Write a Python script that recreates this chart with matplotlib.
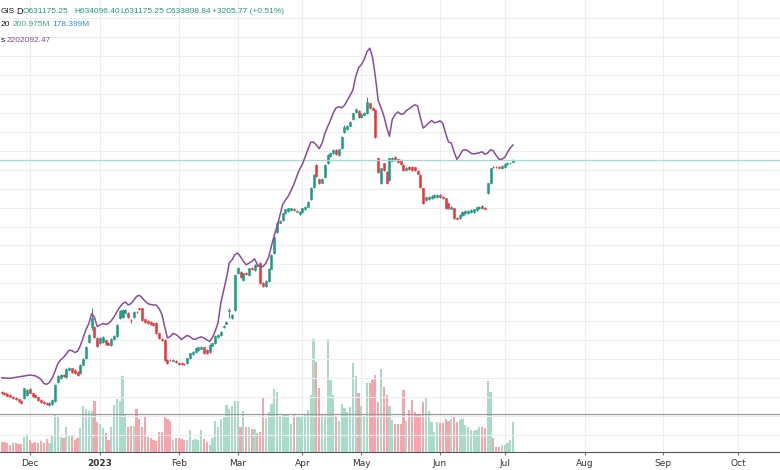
import numpy as np
import matplotlib
matplotlib.use("Agg")
import matplotlib.pyplot as plt

# daily candles, prices in thousands
opens = [401.8, 400.8, 399.5, 398.5, 396.8, 395.8, 394.2, 392.8, 395.2, 398.5,
         404.2, 400.2, 398.5, 396.2, 393.5, 391.8, 390.8, 388.5, 389.8, 392.8,
         411.8, 415.2, 418.8, 416.8, 424.0, 425.2, 423.5, 421.8, 420.2, 429.0,
         435.2, 451.8, 466.8, 466.8, 455.5, 450.8, 451.8, 453.5, 451.0, 448.5,
         454.5, 457.5, 475.5, 476.5, 481.0, 480.8, 473.5, 476.8, 482.0, 485.2,
         485.2, 474.2, 472.8, 471.8, 470.2, 470.5, 460.2, 455.0, 453.5, 433.5,
         433.5, 433.0, 432.8, 430.8, 430.5, 430.0, 430.2, 435.2, 439.5, 441.8,
         443.5, 445.0, 446.2, 443.5, 441.8, 448.0, 450.8, 456.8, 458.5, 466.5,
         470.0, 483.0, 475.2, 483.5, 520.2, 521.8, 513.5, 520.8, 518.5, 525.8,
         523.5, 529.0, 530.5, 510.5, 507.5, 512.5, 525.0, 540.5, 561.8, 571.0,
         573.5, 580.2, 582.8, 583.5, 584.5, 582.0, 579.2, 581.8, 584.2, 587.0,
         594.2, 606.8, 628.5, 614.2, 611.0, 616.8, 630.2, 637.5, 640.8, 643.5,
         638.5, 645.5, 661.8, 664.2, 668.0, 674.2, 681.8, 682.8, 676.8, 679.0,
         680.2, 690.2, 686.0, 683.5, 635.2, 610.2, 630.2, 621.8, 613.5, 633.0,
         636.8, 634.2, 633.5, 628.5, 623.8, 626.8, 626.8, 626.2, 622.5, 618.5,
         605.2, 593.5, 594.8, 595.5, 596.8, 596.8, 598.5, 596.5, 595.2, 590.2,
         585.0, 585.2, 576.0, 575.2, 578.5, 580.2, 580.8, 581.5, 581.8, 583.5,
         585.5, 587.5, 586.0, 600.8, 610.2, 626.8, 626.5, 626.5, 625.8, 626.8,
         629.5, 630.3, 631.175]
closes = [400.5, 399.2, 397.8, 396.8, 395.2, 394.2, 392.5, 390.8, 405.2, 403.5,
          400.8, 397.5, 396.2, 393.5, 391.2, 390.2, 389.2, 391.0, 393.5, 408.5,
          417.5, 418.5, 417.6, 424.5, 425.5, 421.8, 420.2, 418.5, 428.5, 435.0,
          446.8, 458.5, 475.5, 456.8, 447.5, 455.5, 456.8, 449.5, 449.0, 454.5,
          458.0, 468.5, 482.5, 483.5, 484.0, 476.2, 473.2, 481.8, 481.5, 484.8,
          473.5, 471.8, 470.8, 469.5, 468.8, 460.2, 455.2, 453.8, 433.5, 430.2,
          433.3, 433.5, 431.2, 429.5, 429.8, 429.2, 435.2, 440.2, 441.8, 445.2,
          446.2, 446.5, 440.2, 440.8, 448.5, 450.5, 457.5, 458.5, 462.0, 467.5,
          472.0, 483.5, 478.5, 518.5, 525.2, 516.8, 520.2, 519.8, 525.2, 524.8,
          528.5, 528.0, 510.2, 507.5, 512.5, 525.0, 538.5, 556.8, 570.8, 573.0,
          580.2, 584.2, 585.2, 585.2, 583.8, 583.0, 581.8, 585.2, 586.8, 592.0,
          605.2, 618.5, 617.5, 610.2, 614.5, 628.5, 638.5, 640.2, 643.5, 639.5,
          644.2, 657.0, 666.8, 667.5, 672.0, 680.2, 684.2, 676.2, 679.5, 681.0,
          691.8, 685.2, 684.0, 656.8, 621.8, 625.2, 623.5, 610.2, 635.2, 636.0,
          633.5, 631.8, 629.5, 623.5, 626.0, 624.2, 623.5, 623.5, 620.0, 606.8,
          590.2, 596.2, 596.8, 597.5, 598.5, 598.5, 596.8, 595.5, 585.2, 585.2,
          586.5, 575.2, 575.0, 578.5, 581.8, 582.8, 582.8, 583.5, 584.2, 586.2,
          587.0, 585.2, 585.0, 610.2, 625.2, 626.7, 626.2, 626.0, 627.5, 629.5,
          630.3, 630.6, 633.809]
highs = [402.5, 401.5, 400.2, 399.2, 397.5, 396.5, 395.0, 393.5, 406.0, 404.5,
         405.5, 401.0, 399.2, 397.0, 394.2, 392.5, 391.5, 391.8, 394.2, 409.5,
         418.5, 419.5, 419.6, 425.5, 426.5, 426.0, 424.3, 422.6, 429.5, 436.0,
         448.0, 459.5, 485.5, 468.0, 456.5, 456.5, 457.8, 454.5, 451.8, 455.5,
         459.0, 469.5, 483.5, 484.5, 485.0, 482.0, 474.3, 482.8, 482.8, 486.0,
         486.0, 475.0, 473.6, 472.6, 471.0, 471.3, 461.0, 455.8, 454.3, 434.3,
         434.3, 434.3, 433.6, 431.6, 431.3, 430.8, 436.0, 441.0, 442.6, 446.0,
         447.0, 447.3, 447.0, 444.3, 449.3, 451.3, 458.3, 459.3, 462.8, 468.3,
         472.8, 485.5, 479.3, 519.5, 526.2, 522.6, 521.0, 521.6, 526.0, 526.6,
         529.3, 529.8, 531.5, 511.3, 513.3, 525.8, 539.3, 557.8, 571.8, 573.8,
         581.0, 585.0, 586.0, 586.0, 585.3, 583.8, 582.6, 586.0, 587.6, 592.8,
         606.2, 619.5, 629.3, 615.0, 615.3, 629.5, 639.3, 641.0, 644.3, 644.3,
         645.0, 658.0, 668.5, 668.3, 672.8, 681.0, 685.0, 683.6, 680.3, 681.8,
         696.2, 691.0, 686.8, 684.3, 636.0, 626.0, 631.0, 622.6, 636.0, 636.8,
         637.6, 635.0, 634.3, 629.3, 626.8, 627.6, 627.6, 627.0, 623.3, 619.3,
         606.0, 597.0, 597.6, 598.3, 599.3, 599.3, 599.3, 597.3, 596.0, 591.0,
         587.3, 586.0, 576.8, 579.3, 582.6, 583.6, 583.6, 584.3, 585.0, 587.0,
         587.8, 588.3, 586.8, 611.0, 626.0, 627.6, 627.3, 627.3, 628.3, 630.3,
         631.1, 631.4, 634.096]
lows = [399.8, 398.6, 397.2, 396.1, 394.6, 393.6, 391.8, 390.0, 394.5, 397.8,
        400.1, 396.8, 395.5, 392.8, 390.5, 389.5, 388.5, 387.8, 389.0, 392.0,
        411.0, 414.5, 416.8, 416.0, 423.2, 421.0, 419.5, 417.8, 419.5, 428.2,
        434.5, 451.0, 464.0, 455.8, 446.5, 450.0, 451.0, 448.7, 448.2, 447.7,
        453.8, 456.8, 474.5, 475.8, 480.2, 475.2, 470.5, 476.0, 480.7, 484.0,
        472.7, 471.0, 470.0, 468.7, 468.0, 459.4, 454.4, 453.0, 432.5, 429.4,
        432.5, 432.2, 430.4, 428.7, 429.0, 428.4, 429.4, 434.4, 438.7, 441.0,
        442.7, 444.2, 439.4, 440.0, 441.0, 447.2, 450.0, 456.0, 457.7, 465.7,
        469.2, 475.5, 474.4, 482.7, 519.4, 516.0, 512.7, 519.0, 517.7, 524.0,
        522.7, 527.2, 509.4, 506.7, 506.7, 511.7, 524.2, 539.7, 561.0, 570.2,
        572.7, 579.4, 582.0, 582.7, 583.0, 581.2, 578.4, 581.0, 583.4, 586.2,
        593.4, 606.0, 616.7, 609.4, 610.2, 616.0, 629.4, 636.7, 640.0, 638.7,
        637.7, 644.7, 661.0, 663.4, 667.2, 673.4, 681.0, 675.4, 676.0, 678.2,
        679.4, 684.4, 683.2, 656.0, 621.0, 609.4, 622.7, 609.4, 612.7, 632.2,
        632.7, 631.0, 628.7, 622.7, 623.0, 623.4, 622.7, 622.7, 619.2, 606.0,
        589.4, 592.7, 594.0, 594.7, 596.0, 596.0, 596.0, 594.7, 584.4, 584.4,
        584.2, 574.4, 574.2, 574.4, 577.7, 579.4, 580.0, 580.7, 581.0, 582.7,
        584.7, 584.4, 584.2, 600.0, 609.4, 625.9, 625.4, 625.2, 625.0, 626.0,
        628.7, 629.8, 631.175]

# volume in millions
volume = [67, 62, 56, 45, 56, 56, 52, 52, 96, 119,
          78, 60, 67, 60, 72, 60, 82, 60, 105, 253,
          235, 101, 89, 168, 112, 105, 78, 89, 156, 306,
          288, 273, 273, 340, 201, 186, 156, 123, 78, 168,
          313, 350, 342, 507, 246, 163, 172, 172, 283, 216,
          168, 230, 96, 89, 78, 74, 134, 134, 239, 216,
          208, 78, 89, 89, 82, 78, 78, 145, 78, 82,
          78, 145, 82, 67, 45, 89, 208, 168, 216, 235,
          313, 283, 306, 340, 340, 163, 275, 163, 163, 149,
          149, 127, 134, 360, 226, 268, 320, 417, 400, 239,
          246, 246, 248, 186, 246, 235, 232, 241, 253, 279,
          380, 752, 603, 424, 246, 246, 752, 480, 380, 239,
          208, 320, 295, 268, 302, 596, 507, 391, 308, 239,
          462, 462, 480, 514, 335, 551, 431, 380, 306, 212,
          186, 188, 186, 413, 208, 279, 346, 268, 253, 248,
          335, 357, 275, 201, 134, 201, 190, 194, 216, 208,
          216, 230, 201, 210, 216, 179, 168, 145, 141, 145,
          168, 168, 156, 476, 402, 89, 29, 34, 45, 45,
          60, 80, 200.975]

# compared symbol, thousands
compare = [1969.3, 1969.1, 1969.0, 1968.8, 1969.3, 1969.7, 1970.2, 1970.6, 1971.1, 1971.6,
           1972.1, 1971.7, 1971.2, 1969.7, 1967.5, 1963.6, 1962.8, 1964.6, 1969.2, 1976.0,
           1983.5, 1987.2, 1989.6, 1993.3, 1996.9, 1996.4, 1994.6, 1995.8, 2001.5, 2009.4,
           2017.5, 2023.4, 2033.3, 2029.9, 2020.6, 2022.1, 2023.7, 2022.7, 2023.6, 2026.4,
           2030.3, 2035.3, 2039.9, 2043.3, 2045.1, 2042.2, 2043.4, 2046.8, 2050.7, 2051.8,
           2049.3, 2046.0, 2043.5, 2042.6, 2042.1, 2042.1, 2038.6, 2033.0, 2020.6, 2009.1,
           2010.7, 2013.7, 2012.6, 2010.4, 2007.6, 2009.8, 2011.7, 2010.4, 2008.2, 2007.8,
           2009.3, 2010.2, 2009.1, 2007.2, 2005.6, 2009.6, 2016.1, 2024.2, 2044.3, 2056.9,
           2069.1, 2084.4, 2087.2, 2092.5, 2094.1, 2090.3, 2085.9, 2082.3, 2083.9, 2085.7,
           2088.2, 2082.5, 2080.8, 2080.4, 2083.9, 2089.9, 2101.1, 2111.5, 2120.8, 2131.4,
           2142.6, 2147.1, 2151.0, 2156.6, 2162.8, 2170.6, 2177.8, 2182.6, 2190.2, 2197.9,
           2204.9, 2205.0, 2202.1, 2198.4, 2203.8, 2213.5, 2220.3, 2226.7, 2234.2, 2239.2,
           2240.4, 2239.3, 2241.8, 2246.8, 2251.7, 2257.1, 2270.5, 2279.2, 2282.6, 2287.5,
           2295.4, 2298.9, 2289.7, 2270.2, 2246.6, 2239.3, 2231.3, 2220.1, 2210.8, 2227.7,
           2232.3, 2235.2, 2232.9, 2233.1, 2236.4, 2238.4, 2240.4, 2242.3, 2241.3, 2229.6,
           2219.0, 2221.3, 2224.3, 2226.6, 2224.3, 2225.0, 2226.3, 2223.6, 2213.7, 2205.2,
           2204.1, 2195.3, 2187.8, 2191.7, 2196.6, 2197.5, 2196.2, 2193.9, 2193.2, 2193.7,
           2194.4, 2195.3, 2192.8, 2194.2, 2197.3, 2196.2, 2191.6, 2187.8, 2187.9, 2189.6,
           2194.8, 2199.3, 2202.09]

month_pos = [10, 35, 63, 84, 107, 128, 156, 179, 207.6, 235.3, 262.0]
month_labels = ["Dec", "2023", "Feb", "Mar", "Apr", "May", "Jun", "Jul", "Aug", "Sep", "Oct"]
hline_price = 379.5

UP, DOWN = "#1f9a85", "#e8363a"
VUP, VDOWN = "#a9dcc8", "#f4a6ac"
PURPLE = "#8a4b9c"
TEAL = "#1f9a85"

W, H = 780, 470
fig = plt.figure(figsize=(W / 100, H / 100), dpi=100)
vax = fig.add_axes([0, 18.3 / H, 1, 451.7 / H])
ax = vax.twinx()
pax = vax.twinx()

o = np.array(opens)
c = np.array(closes)
n = len(o)
x = np.arange(n)
up = c >= o

vax.bar(x, volume, width=0.78, color=np.where(up, VUP, VDOWN), linewidth=0)
vax.set_ylim(0, 3026)
vax.set_xlim(-0.6, 277.0)

# grid
vax.set_xticks(month_pos)
vax.set_xticklabels(month_labels)
vax.grid(axis="x", color="#eeeef2", lw=0.8)
vax.set_axisbelow(True)
ax.set_yticks(642.8 + 18.95 * np.arange(-16, 9))
ax.grid(axis="y", color="#eeeef2", lw=0.8)
ax.set_axisbelow(True)

# candles
ccol = np.where(up, UP, DOWN)
ax.vlines(x, lows, highs, colors=ccol, lw=0.7)
ax.bar(x, np.abs(c - o), bottom=np.minimum(o, c), width=0.72, color=ccol,
       edgecolor=ccol, linewidth=0.4)
ax.set_ylim(341.8, 793.5)
ax.axhline(closes[-1], color="#a6d8d8", lw=0.9)
ax.axhline(hline_price, color="#9a9a9a", lw=0.9)

pax.plot(x, compare, color=PURPLE, lw=1.1)
pax.set_ylim(1895.4, 2347.1)

for a in (vax, ax, pax):
    for s in a.spines.values():
        s.set_visible(False)
ax.tick_params(axis="y", right=False, labelright=False)
pax.set_yticks([])
vax.set_yticks([])
vax.spines["bottom"].set_visible(True)
vax.spines["bottom"].set_color("#555555")
vax.tick_params(axis="x", length=2.5, color="#777777", labelsize=6.5,
                labelcolor="#333333", pad=3)
for lab in vax.get_xticklabels():
    if lab.get_text() == "2023":
        lab.set_fontweight("bold")


def put(xp, yp, s, color, size=6.0):
    fig.text(xp / W, 1 - yp / H, s, color=color, fontsize=size, va="center", ha="left",
             family="Liberation Sans")


put(0.5, 11.7, "GIS", "#131722", 5.9)
put(16, 11.7, "D", "#131722", 6.6)
put(22.7, 11.7, "O631175.25", TEAL)
put(74, 11.7, "H634096.40", TEAL)
put(120, 11.7, "L631175.25", TEAL)
put(165.7, 11.7, "C633808.84", TEAL)
put(212, 11.7, "+3205.77 (+0.51%)", TEAL)
put(0.5, 25, "20", "#131722")
put(13, 25, "200.975M", "#35a58c")
put(52, 25, "178.399M", "#2a8fd8")
put(0.5, 40, "s", "#131722")
put(7, 40, "2202092.47", PURPLE)

fig.savefig("out.png", dpi=100)
